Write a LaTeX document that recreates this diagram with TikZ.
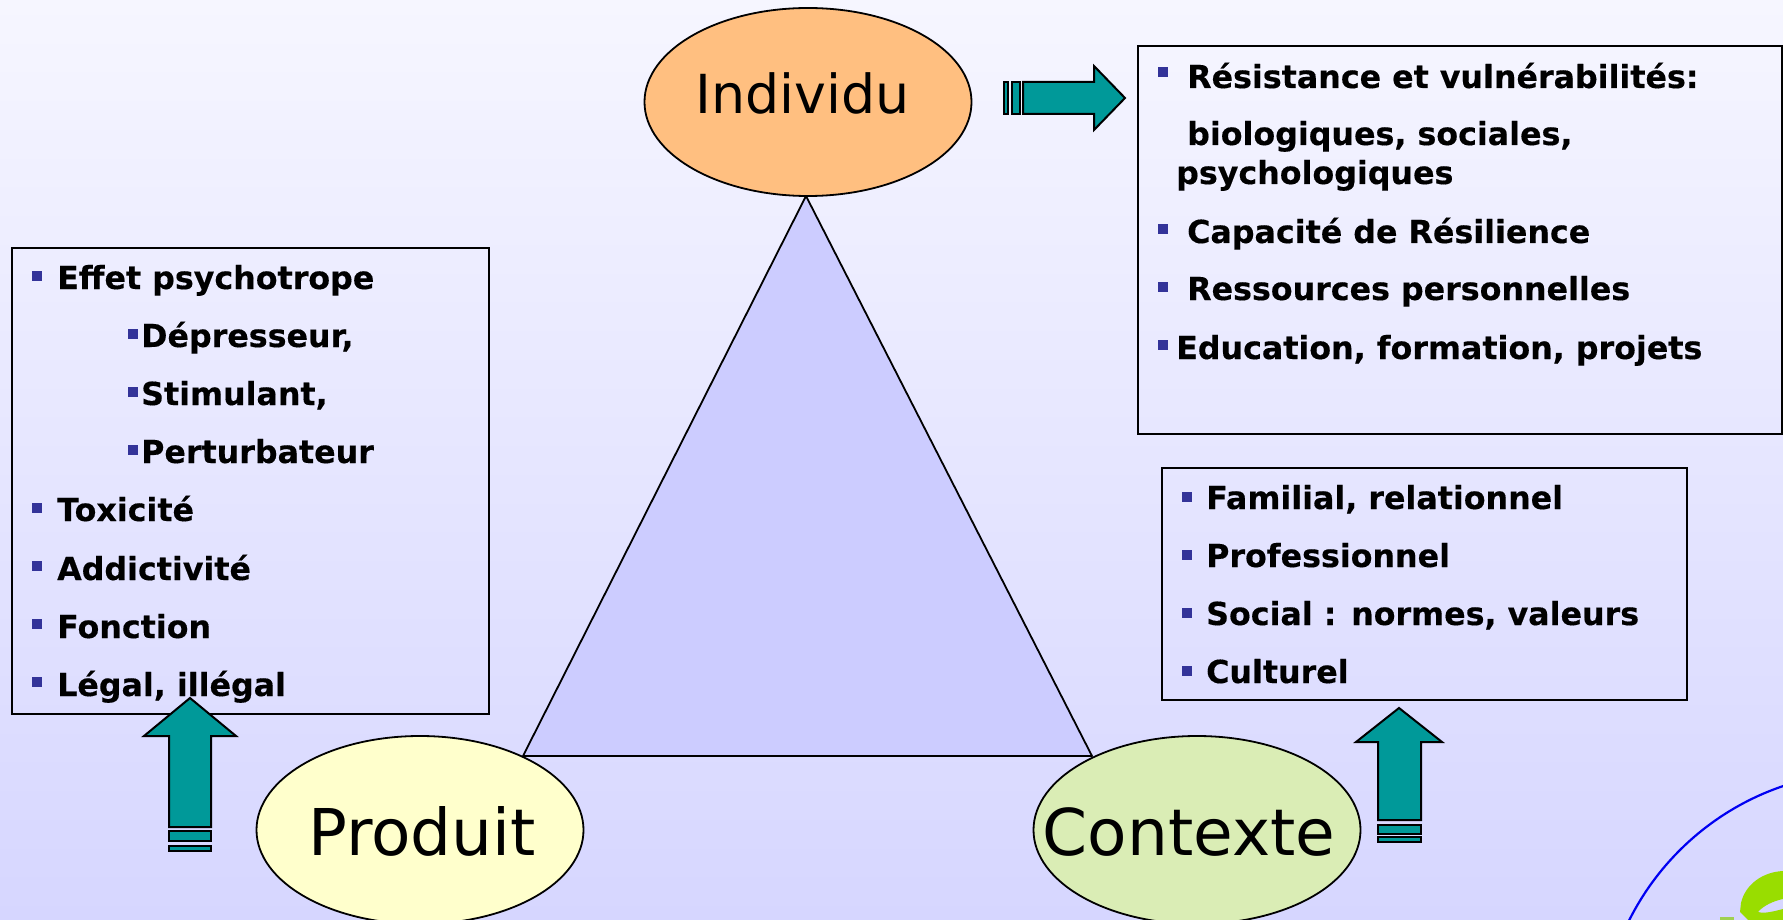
\documentclass[tikz,border=0pt]{standalone}
\usepackage{fontspec}
\usetikzlibrary{shapes.geometric}
\setmainfont[BoldFeatures={FakeBold=0.35}]{DejaVu Sans}
\definecolor{bulletblue}{HTML}{333399}
\definecolor{arrowteal}{HTML}{009999}
\definecolor{bgtop}{HTML}{F6F6FF}
\definecolor{bgbottom}{HTML}{D6D6FF}
\definecolor{triblue}{HTML}{CCCCFF}
\definecolor{ovalorange}{HTML}{FFBF80}
\definecolor{ovalyellow}{HTML}{FFFFCC}
\definecolor{ovalgreen}{HTML}{DAEDB5}
\definecolor{logogreen}{HTML}{99DD00}
\definecolor{logobar}{HTML}{A0D050}
\begin{document}
\begin{tikzpicture}[x=1pt,y=-1pt,
  box/.style={draw=black,line width=1.8pt,fill=none},
  oval/.style={ellipse,draw=black,line width=1.8pt,minimum width=327pt,minimum height=188pt,inner sep=0pt},
  ovaltext/.style={anchor=base,inner sep=0pt,font=\fontsize{64.5}{64.5}\selectfont},
  txt/.style={anchor=base west,inner sep=0pt,font=\fontsize{31.7}{31.7}\selectfont\bfseries},
  bul/.style={fill=bulletblue,minimum size=10pt,inner sep=0pt,anchor=center},
  tealarrow/.style={fill=arrowteal,draw=black,line width=2pt,line join=miter}]
\useasboundingbox (0,0) rectangle (1783,920);
\shade[top color=bgtop,bottom color=bgbottom] (0,0) rectangle (1783,920);
\clip (0,0) rectangle (1783,920);
% triangle
\coordinate (apex) at (806,196);
\coordinate (baseL) at (523,756);
\coordinate (baseR) at (1092,756);
\draw[fill=triblue,line width=1.8pt,line join=round] (apex) -- (baseL) -- (baseR) -- cycle;
% ovals
\node[oval,fill=ovalorange] (individu) at (808,102) {};
\node[oval,fill=ovalyellow] (produit) at (420,830) {};
\node[oval,fill=ovalgreen] (contexte) at (1197,830) {};
\node[ovaltext,font=\fontsize{53.8}{53.8}\selectfont] (individuT) at (802.5,114) {Individu};
\node[ovaltext] (produitT) at (422,855) {Produit};
\node[ovaltext] (contexteT) at (1189,855) {Contexte};
% boxes
\node[box,anchor=north west,minimum width=644pt,minimum height=388pt,inner sep=0pt] (boxI) at (1137,45) {};
\node[box,anchor=north west,minimum width=477pt,minimum height=466pt,inner sep=0pt] (boxP) at (11,247) {};
\node[box,anchor=north west,minimum width=525pt,minimum height=232pt,inner sep=0pt] (boxC) at (1161,467) {};
% right box text
\node[bul] (b1) at (1163,72) {};
\node[txt] (t1) at (1187,88) {Résistance et vulnérabilités:};
\node[txt] (t2) at (1187,145) {biologiques, sociales,};
\node[txt] (t3) at (1176,184) {psychologiques};
\node[bul] (b2) at (1163,229) {};
\node[txt] (t4) at (1187,243) {Capacité de Résilience};
\node[bul] (b3) at (1163,287) {};
\node[txt] (t5) at (1187,300) {Ressources personnelles};
\node[bul] (b4) at (1163,345) {};
\node[txt] (t6) at (1176,359) {Education, formation, projets};
% left box text
\node[bul] (b5) at (37,276) {};
\node[txt] (l1) at (57,289) {Effet psychotrope};
\node[bul] (b6) at (133,334) {};
\node[txt] (l2) at (141,347) {Dépresseur,};
\node[bul] (b7) at (133,392) {};
\node[txt] (l3) at (141,405) {Stimulant,};
\node[bul] (b8) at (133,450) {};
\node[txt] (l4) at (141,463) {Perturbateur};
\node[bul] (b9) at (37,508) {};
\node[txt] (l5) at (57,521) {Toxicité};
\node[bul] (b10) at (37,566) {};
\node[txt] (l6) at (57,580) {Addictivité};
\node[bul] (b11) at (37,624) {};
\node[txt] (l7) at (57,638) {Fonction};
\node[bul] (b12) at (37,682) {};
\node[txt] (l8) at (57,696) {Légal, illégal};
% context box text
\node[bul] (b13) at (1187,497) {};
\node[txt] (c1) at (1206,509) {Familial, relationnel};
\node[bul] (b14) at (1187,555) {};
\node[txt] (c2) at (1206,567) {Professionnel};
\node[bul] (b15) at (1187,613) {};
\node[txt] (c3) at (1206,625) {Social : normes, valeurs};
\node[bul] (b16) at (1187,671) {};
\node[txt] (c4) at (1206,683) {Culturel};
% arrows
\draw[tealarrow] (1023,82) -- (1094,82) -- (1094,66) -- (1125,98) -- (1094,130) -- (1094,114) -- (1023,114) -- cycle;
\draw[tealarrow] (1012,82) rectangle (1020,114);
\draw[tealarrow] (1004,82) rectangle (1008,114);
\draw[tealarrow] (190,698) -- (236,736) -- (211,736) -- (211,827) -- (169,827) -- (169,736) -- (144,736) -- cycle;
\draw[tealarrow] (169,831) rectangle (211,841);
\draw[tealarrow] (169,846) rectangle (211,851);
\draw[tealarrow] (1399,708) -- (1442,742) -- (1421,742) -- (1421,820) -- (1378,820) -- (1378,742) -- (1356,742) -- cycle;
\draw[tealarrow] (1378,825) rectangle (1421,834);
\draw[tealarrow] (1378,837) rectangle (1421,842);
% logo
\draw[blue!95!black,line width=2.2pt] (1869,1040) circle (268);
\fill[logogreen,even odd rule] (1783,871) .. controls (1762,872) and (1745,885) .. (1741,903) -- (1740,912) -- (1748,920) -- (1783,920) -- cycle
  (1758,912) .. controls (1763,906) and (1773,901) .. (1783,899) -- (1783,909) .. controls (1775,911) and (1765,914) .. (1758,912) -- cycle;
\fill[logobar] (1720,917) rectangle (1734,920);
\end{tikzpicture}
\end{document}
